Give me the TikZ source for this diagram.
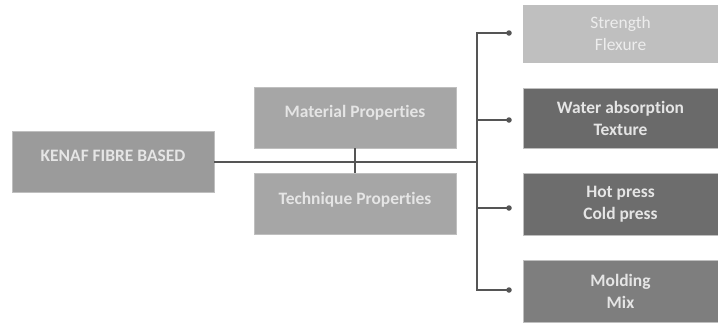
\documentclass[tikz,border=0pt]{standalone}
\usepackage{fontspec}
\setmainfont[Ligatures=NoCommon]{Carlito}
\usetikzlibrary{positioning}

\definecolor{rootgray}{HTML}{9B9B9B}
\definecolor{midgray}{HTML}{A6A6A6}
\definecolor{palegray}{HTML}{BFBFBF}
\definecolor{darkgray1}{HTML}{6A6A6A}
\definecolor{darkgray2}{HTML}{6D6D6D}
\definecolor{darkgray3}{HTML}{7E7E7E}
\definecolor{linegray}{HTML}{555555}

\begin{document}
\begin{tikzpicture}[
    x=1bp, y=-1bp,
    box/.style={draw=black!25, line width=0.6bp, align=center, inner sep=0pt,
      font=\fontsize{17.5}{22}\selectfont\bfseries, text=white!90!black},
    rootbox/.style={box, fill=rootgray, minimum width=202bp, minimum height=61bp, text depth=12bp},
    propbox/.style={box, fill=midgray, minimum width=202bp, minimum height=61bp, text depth=12bp},
    leafbox/.style={box, minimum width=195bp, minimum height=57bp},
    link/.style={draw=linegray, line width=1.2bp},
    tip/.style={circle, fill=linegray, inner sep=0pt, minimum size=5.5bp}
]
\useasboundingbox (0,0) rectangle (718,323);

% left and middle
\node[rootbox] (root) at (113,161.5) {KENAF FIBRE BASED};
\node[propbox] (mat) at (355,117.5) {Material Properties};
\node[propbox] (tech) at (355,204) {Technique Properties};

% right column
\node[leafbox, fill=palegray, text=white!93!black, font=\fontsize{17.5}{22}\selectfont] (str) at (620.5,33.5) {Strength\\Flexure};
\node[leafbox, fill=darkgray1, minimum height=60bp] (wat) at (620.5,118) {Water absorption\\Texture};
\node[leafbox, fill=darkgray2, minimum height=62bp] (hot) at (620.5,204) {Hot press\\Cold press};
\node[leafbox, fill=darkgray3, minimum height=62bp] (mol) at (620.5,291) {Molding\\Mix};

% connectors
\coordinate (trunk) at (477,162);
\node[tip] (d1) at (509,33) {};
\node[tip] (d2) at (509,120) {};
\node[tip] (d3) at (509,208) {};
\node[tip] (d4) at (509,290) {};

\draw[link] (root.east |- trunk) -- (trunk);
\draw[link] (mat.south) -- (tech.north);
\draw[link] (d1.center) -| (trunk |- d1) -- (trunk |- d4) -- (d4.center);
\draw[link] (trunk |- d2) -- (d2.center);
\draw[link] (trunk |- d3) -- (d3.center);
\end{tikzpicture}
\end{document}
